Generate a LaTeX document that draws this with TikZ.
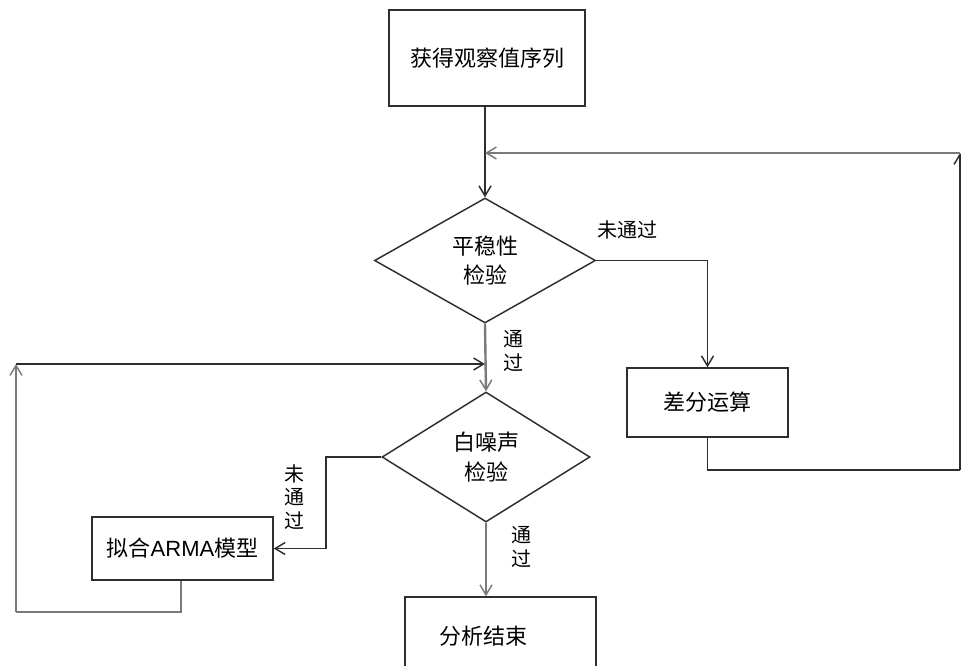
\documentclass[tikz,border=0pt]{standalone}
\usepackage{fontspec}
\setmainfont{Liberation Sans}
\newfontfamily\cjk{Noto Sans CJK SC}
\usetikzlibrary{shapes.geometric,arrows.meta}
\definecolor{dk}{HTML}{2E2E2E}
\definecolor{gy}{HTML}{7A7A7A}
\tikzset{
  boxnode/.style={draw=dk,line width=1.1pt,rectangle,inner sep=0pt,font=\cjk\fontsize{16.5}{20}\selectfont},
  decnode/.style={draw=dk,line width=1.1pt,diamond,inner sep=0pt,align=center,font=\cjk\fontsize{16.5}{22}\selectfont},
  lbl/.style={inner sep=0pt,align=center,font=\cjk\fontsize{15}{17.6}\selectfont},
  arr/.style={-{Straight Barb[length=7.5pt,width=9pt,line width=1.1pt]}},
  dline/.style={draw=dk,line width=1.1pt},
  gline/.style={draw=gy,line width=1.8pt}
}
\begin{document}
\begin{tikzpicture}[x=0.75pt,y=-0.75pt]
\useasboundingbox (0,0) rectangle (961,665);
% nodes
\node[boxnode,minimum width=147pt,minimum height=72pt] (obs) at (487,58) {获得观察值序列};
\node[decnode,minimum width=165.75pt,minimum height=93.75pt] (d1) at (485,260.5) {平稳性\\[0pt]检验};
\node[boxnode,minimum width=120.75pt,minimum height=51.75pt] (diff) at (707.5,402.5) {差分运算};
\node[decnode,minimum width=156pt,minimum height=97.5pt] (d2) at (486,457) {白噪声\\[0pt]检验};
\node[boxnode,minimum width=135.75pt,minimum height=47.25pt] (arma) at (182.5,548.5) {拟合{\rmfamily ARMA}模型};
\node[boxnode,minimum width=143.25pt,minimum height=60pt] (endb) at (500.5,637) {};
\node[inner sep=0pt,font=\cjk\fontsize{16.5}{20}\selectfont] (endt) at (483,636) {分析结束};
% labels
\node[lbl] (l1) at (627,230) {未通过};
\node[lbl] (l2) at (513,351) {通\\过};
\node[lbl] (l3) at (294,497) {未\\通\\过};
\node[lbl] (l4) at (521,547) {通\\过};
% coordinates
\coordinate (c1) at (707.5,470);
\coordinate (c2) at (960,470);
\coordinate (c3) at (960,153);
\coordinate (j1) at (485,153);
\coordinate (k1) at (326,457);
\coordinate (k2) at (181,612);
\coordinate (k3) at (16,612);
\coordinate (k4) at (16,364);
\coordinate (j2) at (485,364);
% connectors
\draw[dline,arr] (d1.north |- obs.south) -- (d1.north);
\draw[dline,arr] (d1.east) -| (diff.north);
\draw[dline] (diff.south) |- (c2);
\draw[dline,arr] (c2) -- (c3);
\draw[gline,arr] (c3) -- (j1);
\draw[gline,arr] (d1.south) -- (d2.north);
\draw[dline,arr] (d2.west) -- (k1) |- (arma.east);
\draw[gline] (arma.south -| k2) -- (k2) -- (k3);
\draw[gline,arr] (k3) -- (k4);
\draw[dline,arr] (k4) -- (j2);
\draw[gline,arr] (d2.south) -- (d2.south |- endb.north);
\end{tikzpicture}
\end{document}
